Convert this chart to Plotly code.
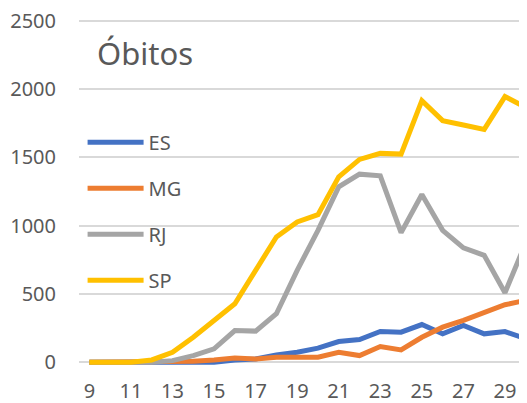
import plotly.graph_objects as go

days = list(range(9, 31))
es = [0, 0, 0, 0, 0, 0, 0, 17, 24, 54, 73, 103, 152, 166, 225, 220, 276, 208, 269, 208, 225, 172]
mg = [0, 0, 0, 0, 0, 7, 17, 32, 24, 37, 37, 37, 73, 49, 115, 90, 183, 257, 306, 367, 421, 453]
rj = [0, 0, 0, 0, 12, 49, 98, 232, 228, 355, 673, 966, 1284, 1377, 1365, 949, 1228, 966, 837, 783, 509, 875]
sp = [0, 0, 0, 17, 73, 183, 306, 428, 673, 917, 1027, 1081, 1358, 1485, 1529, 1524, 1915, 1769, 1737, 1705, 1945, 1865]

series = [("ES", es, "#4472C4"), ("MG", mg, "#ED7D31"), ("RJ", rj, "#A5A5A5"), ("SP", sp, "#FFC000")]

FONT = "Noto Sans"
TXT = "#595959"

fig = go.Figure()
for i, (name, vals, col) in enumerate(series):
    fig.add_trace(go.Scatter(x=days, y=vals, name=name, mode="lines",
                             line=dict(color=col, width=5),
                             legendgroup=f"g{i}"))

# page body has an 8px margin; figure is sized/offset to compensate
fig.update_layout(
    width=519, height=395,
    margin=dict(l=71, r=0, t=10, b=38),
    paper_bgcolor="white", plot_bgcolor="white",
    font=dict(family=FONT, size=20, color=TXT),
    showlegend=True,
    legend=dict(x=0.008, y=0.698, xanchor="left", yanchor="top",
                bgcolor="rgba(0,0,0,0)", font=dict(size=20, color=TXT),
                tracegroupgap=17, itemwidth=56),
    annotations=[dict(text="Óbitos", xref="paper", yref="paper", x=0.036, y=0.9,
                      xanchor="left", yanchor="middle", showarrow=False,
                      font=dict(size=31, color=TXT, family=FONT))],
)
fig.update_xaxes(range=[8.5, 30.06], tick0=9, dtick=2, showgrid=False, zeroline=False,
                 showline=False, ticks="", ticklabelstandoff=12, ticklabeloverflow="allow",
                 automargin=False,
                 tickfont=dict(size=20, color=TXT, family=FONT))
fig.update_yaxes(range=[-20, 2520], tickvals=[0, 500, 1000, 1500, 2000, 2500],
                 showgrid=True, gridcolor="#D9D9D9",
                 gridwidth=1.5, zeroline=True, zerolinecolor="#D9D9D9", zerolinewidth=1.5,
                 showline=False, ticks="", ticklabelstandoff=22, ticklabeloverflow="allow",
                 automargin=False,
                 tickfont=dict(size=20, color=TXT, family=FONT))

fig.write_html("out.html")
